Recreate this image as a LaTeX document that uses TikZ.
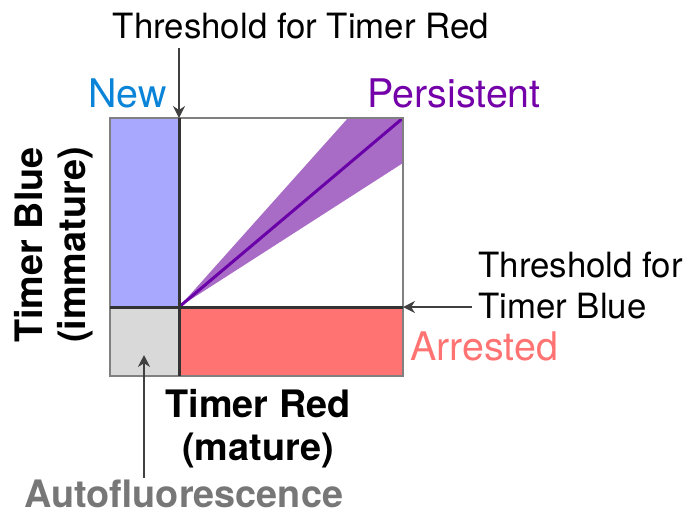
\documentclass[tikz,border=0pt]{standalone}
\usepackage{fontspec}
\setmainfont{TeX Gyre Heros}
\usetikzlibrary{arrows.meta}
\definecolor{newblue}{HTML}{0A84D8}
\definecolor{newfill}{HTML}{A8A8FF}
\definecolor{persist}{HTML}{7300A8}
\definecolor{wedge}{HTML}{A86CC6}
\definecolor{diag}{HTML}{6A00A8}
\definecolor{arrest}{HTML}{FF7373}
\definecolor{autofill}{HTML}{D9D9D9}
\definecolor{autogrey}{HTML}{777777}

\begin{document}
\begin{tikzpicture}[x=0.5pt,y=-0.5pt,>={Stealth[length=6pt,width=6pt]},
  lbl/.style={inner sep=0pt,font=\fontsize{17.4}{20.5}\selectfont},
  big/.style={inner sep=0pt,font=\fontsize{19.7}{23}\selectfont},
  axislbl/.style={inner sep=0pt,align=center,font=\fontsize{18.9}{21.5}\selectfont\bfseries},
  arr/.style={->,draw=black!75,line width=0.75pt},
  thr/.style={draw=black!80,line width=1.5pt}]
\useasboundingbox (0,0) rectangle (689,516);
% quadrants
\fill[newfill] (110,118) rectangle (179,307);
\fill[autofill] (110,307) rectangle (179,376);
\fill[arrest] (179,307) rectangle (403,376);
\fill[wedge] (179,307) -- (348,118) -- (403,118) -- (403,163) -- cycle;
\draw[diag,line width=1.5pt] (179,307) -- (403,118);
\draw[black!50,line width=0.75pt] (110,118) rectangle (403,376);
\draw[thr] (179,118) -- (179,376);
\draw[thr] (110,307) -- (403,307);
% labels (base of a two-line node is its last line)
\node[lbl,anchor=base] (thrredlbl) at (301,38) {Threshold for Timer Red};
\node[big,text=newblue,anchor=base east] (newlbl) at (167,107) {New};
\node[big,text=persist,anchor=base west] (perlbl) at (367,107) {Persistent};
\node[lbl,align=left,anchor=base west] (thrbluelbl) at (478,318) {Threshold for\\Timer Blue};
\node[big,text=arrest,anchor=base west] (arrlbl) at (410,360) {Arrested};
\node[axislbl,anchor=base] (xlbl) at (258,460) {Timer Red\\(mature)};
\node[axislbl,anchor=base,rotate=90] (ylbl) at (85,245) {Timer Blue\\(immature)};
\node[axislbl,text=autogrey,anchor=base west] (autolbl) at (24,507) {Autofluorescence};
% arrows
\coordinate (redtail) at (179,48);
\coordinate (redthr) at (179,118);
\coordinate (bluetail) at (472,307);
\coordinate (bluethr) at (403,307);
\coordinate (autotail) at (144,478);
\coordinate (autotip) at (144,355);
\draw[arr] (redtail) -- (redthr);
\draw[arr] (bluetail) -- (bluethr);
\draw[arr] (autotail) -- (autotip);
\end{tikzpicture}
\end{document}
